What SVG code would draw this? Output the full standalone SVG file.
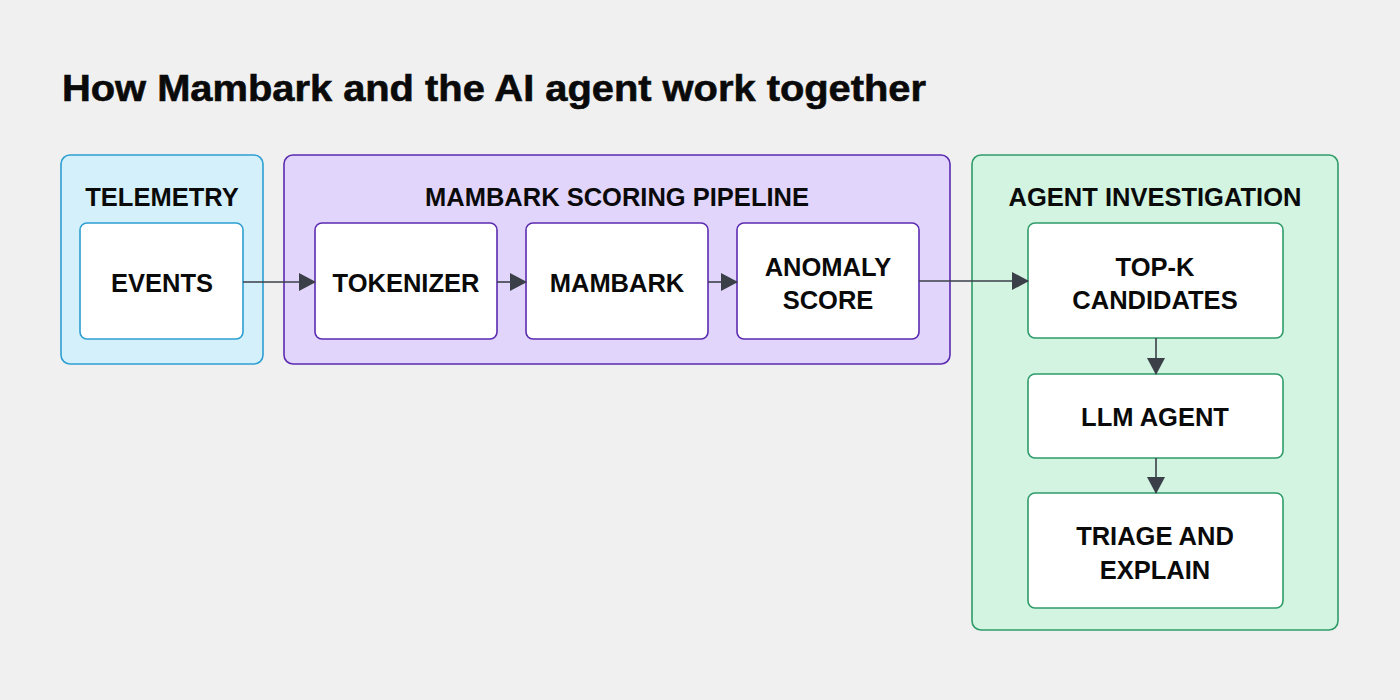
<svg xmlns="http://www.w3.org/2000/svg" width="1400" height="700" viewBox="0 0 1400 700">
<style>
.t{font-family:"Liberation Sans",Arial,sans-serif;font-weight:bold;fill:#0a0a0a;text-anchor:middle}
.lbl{font-size:25.5px}
.grp{font-size:25.5px}
.node{fill:#fff;stroke-width:1.6}
.conn{stroke:#3a3f48;stroke-width:1.6;fill:none}
</style>
<defs>
<marker id="ah" markerWidth="17" markerHeight="18" refX="16" refY="9" orient="auto" markerUnits="userSpaceOnUse">
<path d="M0,0 L17,9 L0,18 Z" fill="#3a3f48"/>
</marker>
</defs>
<rect width="1400" height="700" fill="#f0f0f0"/>
<text x="62" y="101" font-family="Liberation Sans,Arial,sans-serif" font-weight="bold" font-size="37" fill="#0a0a0a" stroke="#0a0a0a" stroke-width="0.6" textLength="864" lengthAdjust="spacingAndGlyphs">How Mambark and the AI agent work together</text>

<g id="telemetry">
<rect x="61" y="155" width="202" height="209" rx="9" fill="#d4f0fb" stroke="#2d9fd2" stroke-width="1.6"/>
<text class="t grp" x="162" y="206">TELEMETRY</text>
</g>
<g id="pipeline">
<rect x="284" y="155" width="666" height="209" rx="9" fill="#e2d5fc" stroke="#5b2bb0" stroke-width="1.6"/>
<text class="t grp" x="617" y="206">MAMBARK SCORING PIPELINE</text>
</g>
<g id="agent-investigation">
<rect x="972" y="155" width="366" height="475" rx="9" fill="#d2f4e1" stroke="#2e9c68" stroke-width="1.6"/>
<text class="t grp" x="1155" y="206">AGENT INVESTIGATION</text>
</g>

<g id="events">
<rect class="node" x="80" y="223" width="163" height="116" rx="7" stroke="#2d9fd2"/>
<text class="t lbl" x="162" y="292">EVENTS</text>
</g>
<g id="tokenizer">
<rect class="node" x="315" y="223" width="182" height="116" rx="7" stroke="#5b2bb0"/>
<text class="t lbl" x="406" y="292">TOKENIZER</text>
</g>
<g id="mambark">
<rect class="node" x="526" y="223" width="182" height="116" rx="7" stroke="#5b2bb0"/>
<text class="t lbl" x="617" y="292">MAMBARK</text>
</g>
<g id="anomaly-score">
<rect class="node" x="737" y="223" width="182" height="116" rx="7" stroke="#5b2bb0"/>
<text class="t lbl" x="828" y="276">ANOMALY</text>
<text class="t lbl" x="828" y="309">SCORE</text>
</g>
<g id="top-k">
<rect class="node" x="1028" y="223" width="255" height="115" rx="7" stroke="#2e9c68"/>
<text class="t lbl" x="1155" y="276">TOP-K</text>
<text class="t lbl" x="1155" y="309">CANDIDATES</text>
</g>
<g id="llm-agent">
<rect class="node" x="1028" y="374" width="255" height="84" rx="7" stroke="#2e9c68"/>
<text class="t lbl" x="1155" y="426">LLM AGENT</text>
</g>
<g id="triage">
<rect class="node" x="1028" y="493" width="255" height="115" rx="7" stroke="#2e9c68"/>
<text class="t lbl" x="1155" y="545">TRIAGE AND</text>
<text class="t lbl" x="1155" y="579">EXPLAIN</text>
</g>

<g id="connectors">
<line class="conn" x1="243" y1="282" x2="315" y2="282" marker-end="url(#ah)"/>
<line class="conn" x1="497" y1="282" x2="526" y2="282" marker-end="url(#ah)"/>
<line class="conn" x1="708" y1="282" x2="737" y2="282" marker-end="url(#ah)"/>
<line class="conn" x1="919" y1="281" x2="1028" y2="281" marker-end="url(#ah)"/>
<line class="conn" x1="1156" y1="338" x2="1156" y2="374" marker-end="url(#ah)"/>
<line class="conn" x1="1156" y1="458" x2="1156" y2="493" marker-end="url(#ah)"/>
</g>
</svg>
